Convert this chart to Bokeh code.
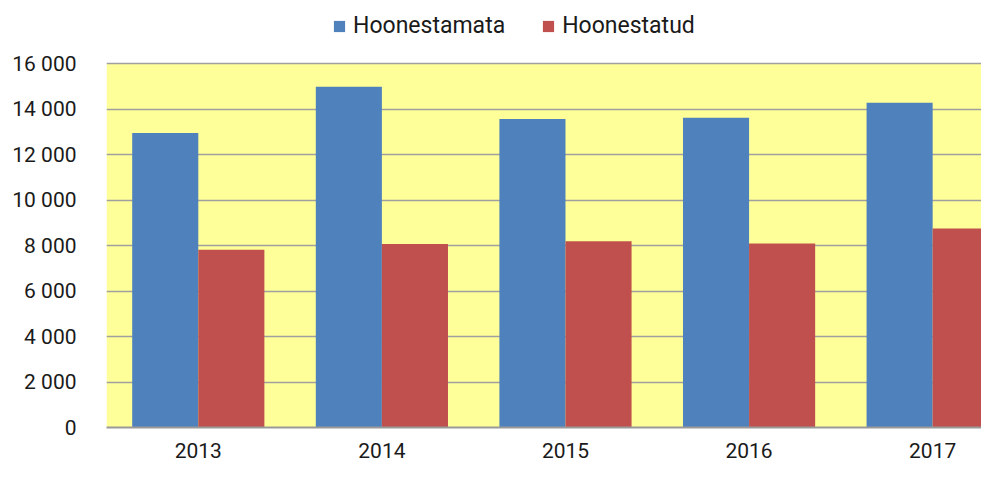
from bokeh.plotting import figure
from bokeh.models import ColumnDataSource, Range1d, FixedTicker, Legend, LegendItem, BoxAnnotation
from bokeh.transform import dodge
from bokeh.embed import file_html
from bokeh.resources import INLINE

years = [2013, 2014, 2015, 2016, 2017]
hoonestamata = [12950, 14980, 13560, 13620, 14280]
hoonestatud = [7810, 8070, 8190, 8090, 8750]
y_ticks = [0, 2000, 4000, 6000, 8000, 10000, 12000, 14000, 16000]
y_tick_labels = ["0", "2 000", "4 000", "6 000", "8 000", "10 000", "12 000", "14 000", "16 000"]
series_names = ["Hoonestamata", "Hoonestatud"]

source = ColumnDataSource(dict(year=years, a=hoonestamata, b=hoonestatud))

FONT = "Roboto"

W, H = 981, 463
TOP, BOTTOM, LEFT = 4, 36, 106
frame_h = H - TOP - BOTTOM
plot_area_h = frame_h - (63 - TOP)
y_max = y_ticks[-1] * frame_h / plot_area_h

p = figure(width=W, height=H, output_backend="svg", toolbar_location=None,
           x_range=Range1d(2012.5, 2017.266), y_range=Range1d(0, y_max),
           min_border_left=LEFT, min_border_right=0, min_border_top=TOP, min_border_bottom=BOTTOM)

p.background_fill_color = "white"
p.border_fill_color = "white"
p.outline_line_color = None

bg = BoxAnnotation(bottom=y_ticks[0], top=y_ticks[-1], fill_color="#FFFF99", fill_alpha=1,
                   line_color=None, level="image")
p.add_layout(bg)

bw = 0.36
r1 = p.vbar(x=dodge("year", -bw / 2, range=p.x_range), top="a", width=bw, source=source,
            fill_color="#4F81BD", line_color=None)
r2 = p.vbar(x=dodge("year", bw / 2, range=p.x_range), top="b", width=bw, source=source,
            fill_color="#C0504D", line_color=None)

p.xgrid.grid_line_color = None
p.ygrid.grid_line_color = "#A0A0A0"
p.ygrid.grid_line_width = 1.5
p.ygrid.ticker = FixedTicker(ticks=y_ticks)

p.yaxis.ticker = FixedTicker(ticks=y_ticks)
p.yaxis.major_label_overrides = {t: l for t, l in zip(y_ticks, y_tick_labels)}
p.yaxis.axis_line_color = None
p.yaxis.major_tick_line_color = None
p.yaxis.minor_tick_line_color = None
p.yaxis.major_label_standoff = 24
p.yaxis.major_label_text_font = FONT
p.yaxis.major_label_text_font_size = "21px"
p.yaxis.major_label_text_color = "#1A1A1A"

p.xaxis.ticker = FixedTicker(ticks=years)
p.xaxis.axis_line_color = "#999999"
p.xaxis.axis_line_width = 2
p.xaxis.major_tick_line_color = None
p.xaxis.minor_tick_line_color = None
p.xaxis.major_label_standoff = 9
p.xaxis.major_label_text_font = FONT
p.xaxis.major_label_text_font_size = "21px"
p.xaxis.major_label_text_color = "#1A1A1A"

legend = Legend(items=[LegendItem(label=series_names[0], renderers=[r1]),
                       LegendItem(label=series_names[1], renderers=[r2])],
                orientation="horizontal", location=(226, frame_h - 35))
legend.padding = 0
legend.margin = 0
legend.spacing = 36
legend.border_line_color = None
legend.background_fill_alpha = 0
legend.glyph_width = 14
legend.glyph_height = 14
legend.label_standoff = 7
legend.label_height = 26
legend.label_text_font = FONT
legend.label_text_font_size = "23px"
legend.label_text_color = "#1A1A1A"
legend.label_text_baseline = "middle"
p.add_layout(legend, "center")

open("out.html", "w").write(file_html(p, INLINE))
